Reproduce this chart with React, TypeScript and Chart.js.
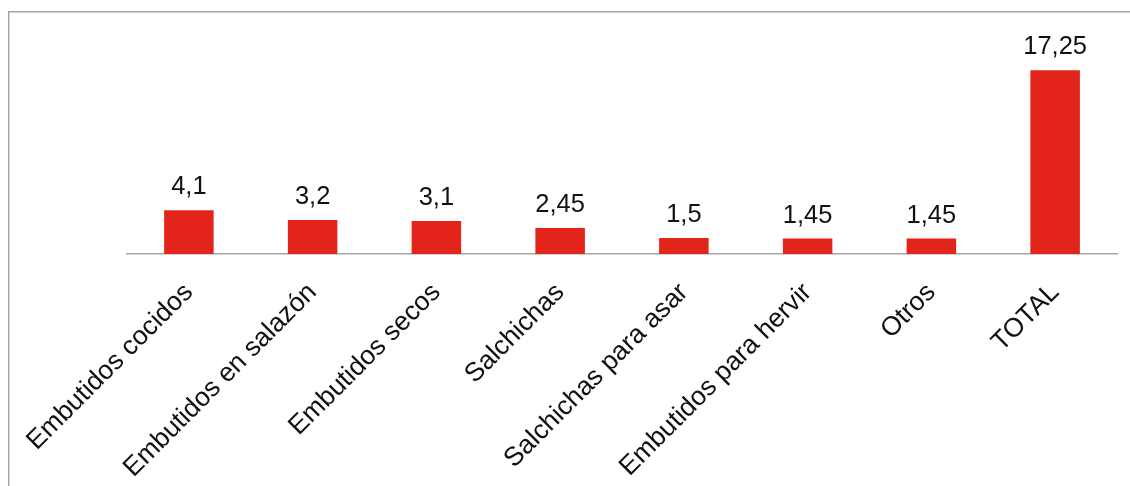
import React, { useEffect, useRef } from "react";
import { Chart, registerables } from "chart.js";

Chart.register(...registerables);

const categories = [
  "Embutidos cocidos",
  "Embutidos en salazón",
  "Embutidos secos",
  "Salchichas",
  "Salchichas para asar",
  "Embutidos para hervir",
  "Otros",
  "TOTAL",
];

const values = [4.1, 3.2, 3.1, 2.45, 1.5, 1.45, 1.45, 17.25];

const BAR_COLOR = "#E2241B";
const FRAME_COLOR = "#a3a3a3";
const AXIS_COLOR = "#a6a6a6";
const FONT = "'Liberation Sans', Arial, sans-serif";

const formatValue = (v: number) => String(v).replace(".", ",");

// Thin frame along the top and left edges of the panel
const framePlugin = {
  id: "frame",
  beforeDraw(chart: any) {
    const { ctx, width, height } = chart;
    ctx.save();
    ctx.strokeStyle = FRAME_COLOR;
    ctx.lineWidth = 1.4;
    ctx.beginPath();
    ctx.moveTo(8.7, height);
    ctx.lineTo(8.7, 11.7);
    ctx.lineTo(width, 11.7);
    ctx.stroke();
    ctx.restore();
  },
};

// Value written above each bar
const valueLabelPlugin = {
  id: "valueLabels",
  afterDatasetsDraw(chart: any) {
    const { ctx } = chart;
    const meta = chart.getDatasetMeta(0);
    ctx.save();
    ctx.font = `25.5px ${FONT}`;
    ctx.fillStyle = "#111";
    ctx.textAlign = "center";
    ctx.textBaseline = "alphabetic";
    meta.data.forEach((bar: any, i: number) => {
      ctx.fillText(formatValue(values[i]), bar.x, bar.y - 16);
    });
    ctx.restore();
  },
};

export default function App() {
  const canvasRef = useRef<HTMLCanvasElement | null>(null);

  useEffect(() => {
    if (!canvasRef.current) return;
    const chart = new Chart(canvasRef.current, {
      type: "bar",
      data: {
        labels: categories,
        datasets: [
          {
            data: values,
            backgroundColor: BAR_COLOR,
            barPercentage: 0.4,
            categoryPercentage: 1,
          },
        ],
      },
      options: {
        animation: false,
        responsive: false,
        devicePixelRatio: 1,
        layout: { padding: { left: 127, right: 13, top: 41, bottom: 0 } },
        plugins: {
          legend: { display: false },
          tooltip: { enabled: false },
        },
        scales: {
          x: {
            grid: { display: false, drawTicks: false },
            border: { display: true, color: AXIS_COLOR, width: 1.5 },
            ticks: {
              color: "#111",
              font: { family: FONT, size: 26.5 },
              minRotation: 45,
              maxRotation: 45,
              autoSkip: false,
              padding: 23,
            },
            afterFit: (scale: any) => {
              scale.height = 232;
            },
          },
          y: {
            display: false,
            min: 0,
            max: 20,
          },
        },
      },
      plugins: [framePlugin, valueLabelPlugin],
    });
    return () => chart.destroy();
  }, []);

  return (
    <div style={{ position: "absolute", left: 0, top: 0, width: 1130, height: 486, background: "#fff" }}>
      <canvas ref={canvasRef} width={1130} height={486} style={{ display: "block" }} />
    </div>
  );
}
